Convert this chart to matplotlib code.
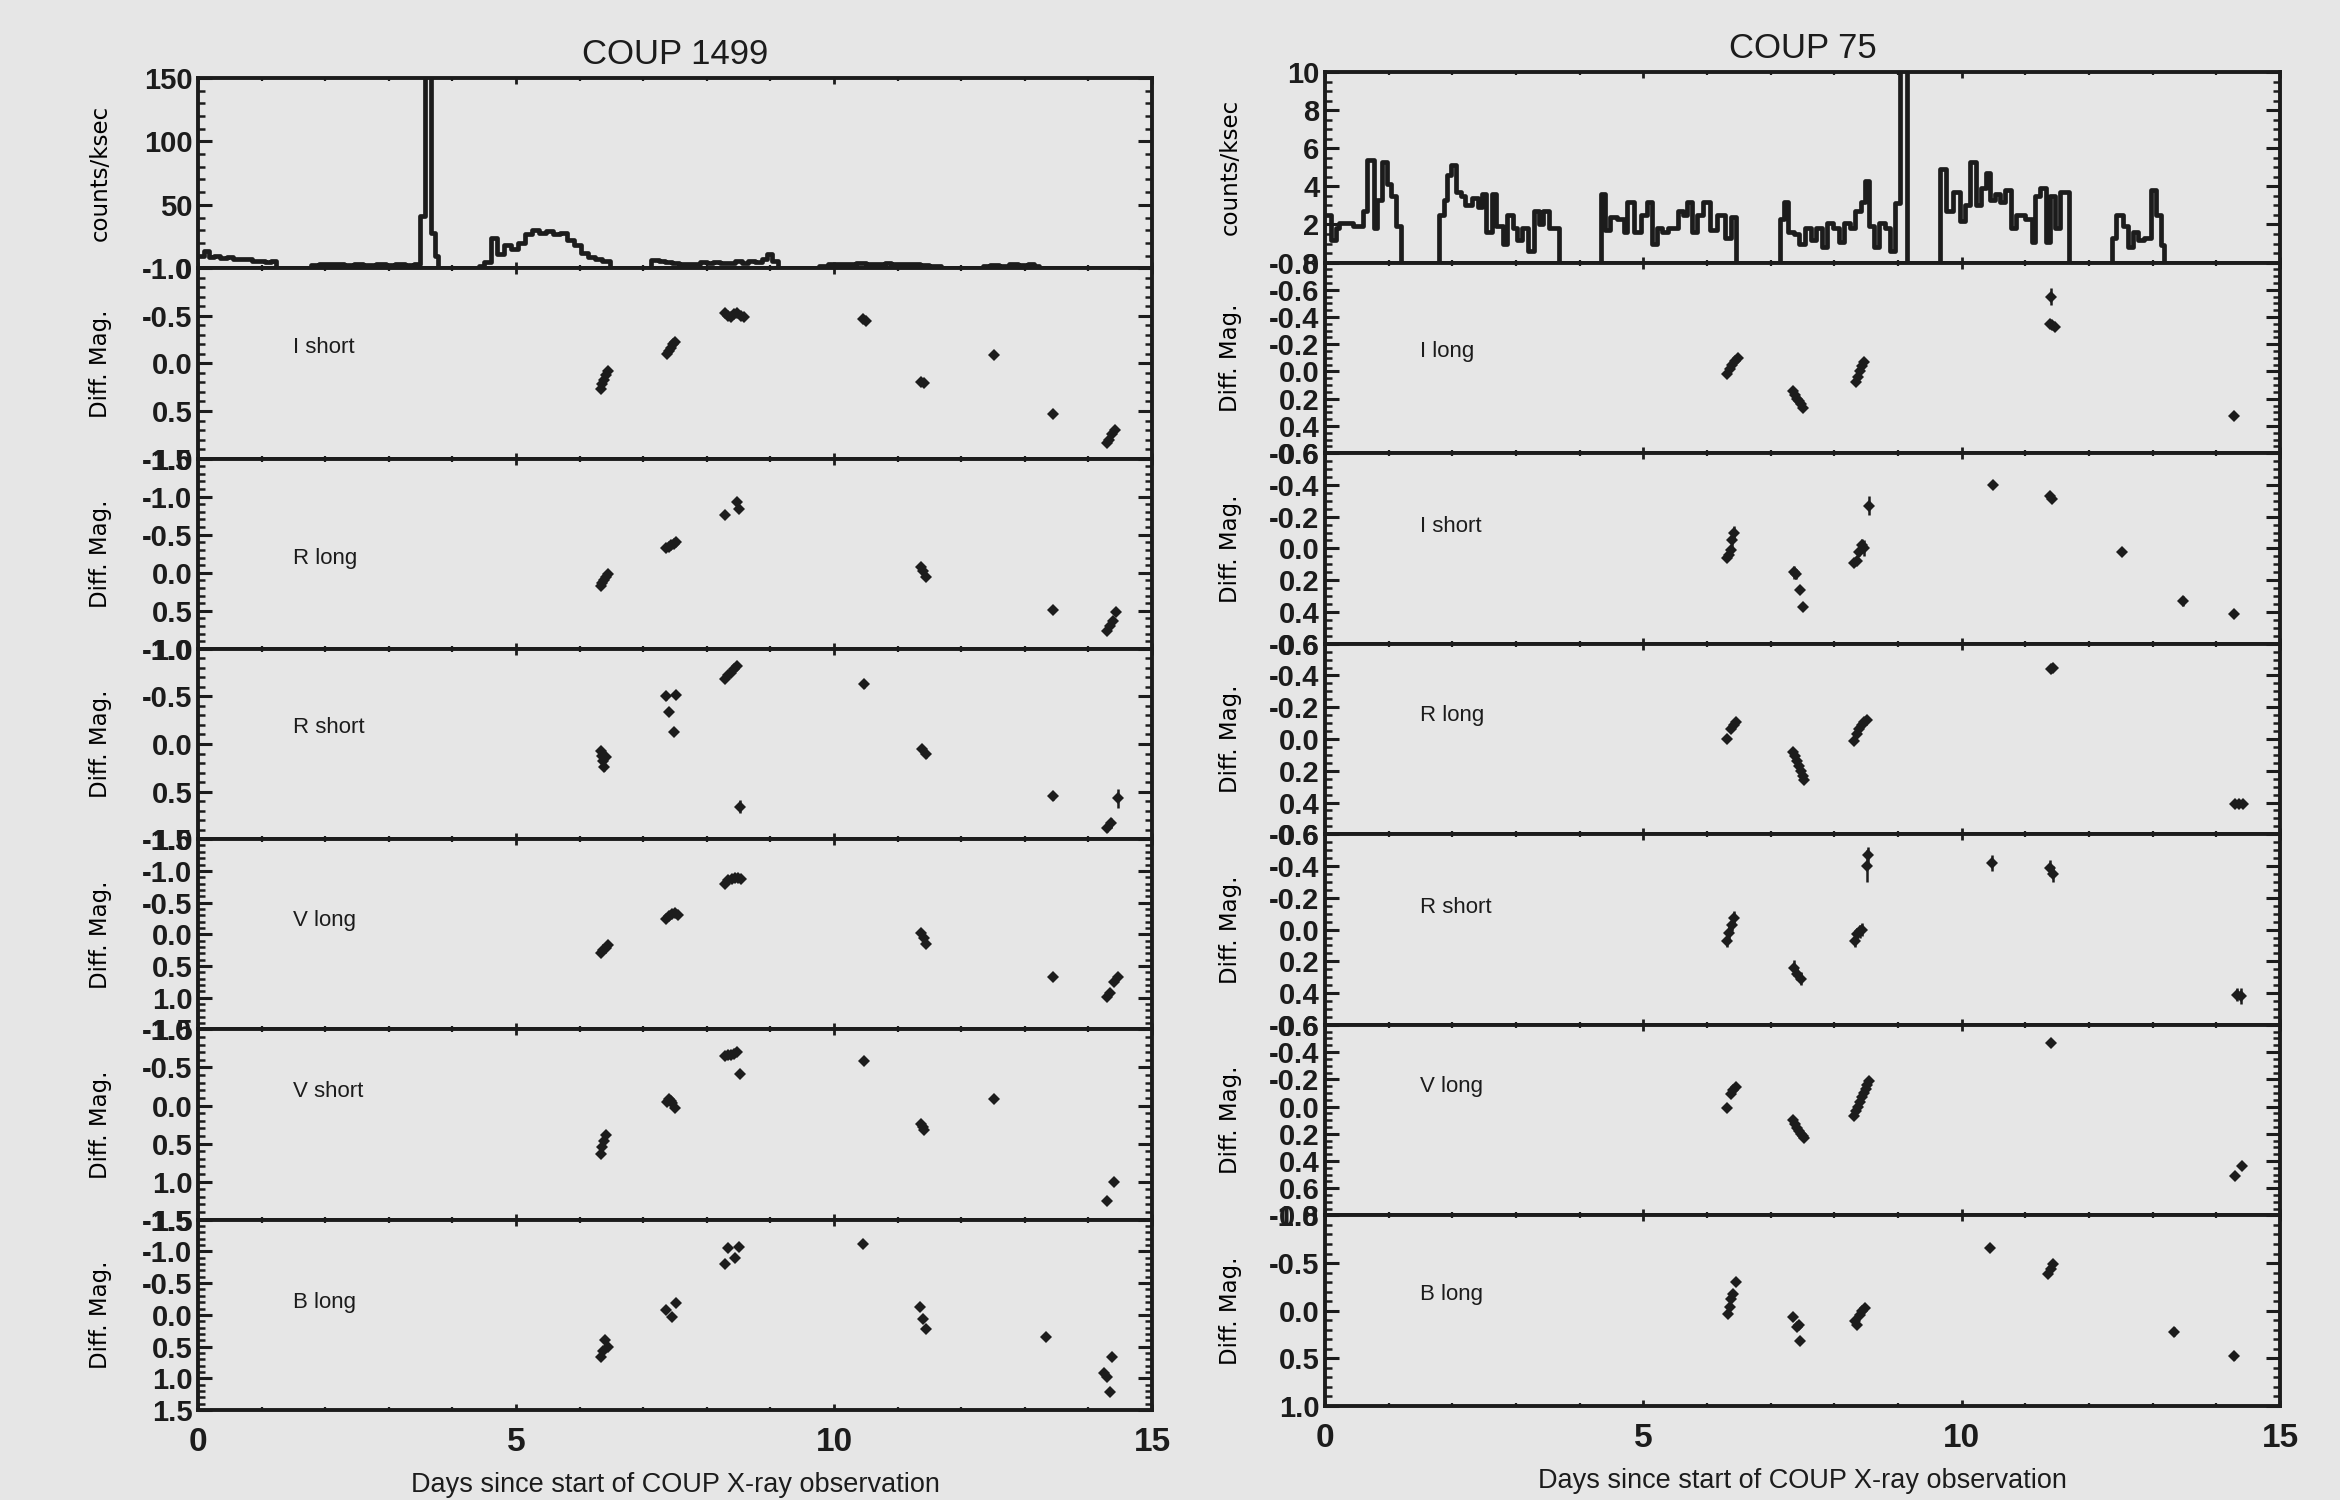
import matplotlib
matplotlib.use('Agg')
import matplotlib.pyplot as plt
from matplotlib import font_manager
from matplotlib.ticker import MultipleLocator, FixedLocator, FormatStrFormatter
import numpy as np

# ---------------- data ----------------
# X-ray light curves (bin start day, counts/ksec), steps-post
lc1499_t = [0.00, 0.10, 0.17, 0.25, 0.35, 0.45, 0.55, 0.70, 0.85, 0.95, 1.05, 1.15, 1.23,
            1.78, 1.90, 2.00, 2.15, 2.30, 2.45, 2.60, 2.80, 2.95, 3.10, 3.25, 3.40, 3.49,
            3.57, 3.67, 3.73, 3.78, 4.42, 4.50, 4.61, 4.70, 4.81, 4.92, 5.03, 5.14, 5.25,
            5.36, 5.47, 5.58, 5.69, 5.80, 5.91, 6.02, 6.13, 6.24, 6.35, 6.48, 7.12, 7.25,
            7.35, 7.45, 7.56, 7.70, 7.89, 8.00, 8.10, 8.20, 8.35, 8.45, 8.55, 8.65, 8.75,
            8.87, 8.95, 9.02, 9.12, 9.76, 9.90, 10.05, 10.20, 10.35, 10.50, 10.65, 10.80,
            10.90, 11.05, 11.20, 11.35, 11.50, 11.68, 12.34, 12.45, 12.60, 12.75, 12.90,
            13.05, 13.15, 13.22, 15.00]
lc1499_rate = [10, 14, 9, 10, 8, 9, 7, 7.5, 6, 6, 5, 6, 0,
               2.5, 3.5, 3, 3.5, 2.5, 3, 2.5, 3, 2.5, 3, 2.5, 3, 41,
               160, 28, 10, 0, 2, 5, 24, 11, 18, 15, 20, 27, 30,
               28, 29, 27, 28, 22, 18, 12, 9, 7, 6, 0, 6.5, 6,
               5, 4.5, 3.2, 3, 5, 4, 5, 4.5, 4, 5.5, 4.5, 6, 5,
               7, 11, 6, 0, 2, 3, 3.5, 3, 4, 3, 3.5, 4.5,
               3, 3.5, 3, 2.5, 2, 0, 2, 2.5, 2, 3, 2.5,
               3.5, 2, 0, 0]

lc75_t = [0.00, 0.10, 0.17, 0.22, 0.44, 0.60, 0.66, 0.77, 0.82, 0.90, 0.97, 1.04, 1.12, 1.19,
          1.79, 1.87, 1.92, 1.98, 2.05, 2.14, 2.20, 2.31, 2.40, 2.47, 2.53, 2.62, 2.69, 2.80,
          2.86, 2.95, 3.02, 3.10, 3.19, 3.28, 3.36, 3.43, 3.52, 3.60, 3.68,
          4.34, 4.40, 4.48, 4.59, 4.70, 4.75, 4.86, 4.97, 5.06, 5.14, 5.21, 5.30, 5.39, 5.55,
          5.63, 5.69, 5.77, 5.85, 5.93, 6.04, 6.15, 6.29, 6.37, 6.46,
          7.14, 7.21, 7.27, 7.36, 7.45, 7.54, 7.64, 7.71, 7.80, 7.89, 7.98, 8.07, 8.15, 8.24,
          8.33, 8.42, 8.48, 8.55, 8.63, 8.70, 8.79, 8.88, 8.96, 9.03, 9.14,
          9.66, 9.75, 9.86, 9.98, 10.05, 10.13, 10.22, 10.31, 10.38, 10.44, 10.53, 10.60, 10.68,
          10.77, 10.86, 10.93, 11.00, 11.10, 11.15, 11.23, 11.32, 11.38, 11.46, 11.54, 11.68,
          12.36, 12.43, 12.53, 12.62, 12.69, 12.77, 12.86, 12.97, 13.05, 13.13, 13.18, 15.00]
lc75_rate = [2.5, 1.2, 1.8, 2.1, 1.9, 2.7, 5.4, 1.8, 3.3, 5.3, 4.1, 3.5, 1.9, 0,
             2.5, 3.3, 4.6, 5.1, 3.7, 3.5, 3.0, 3.4, 2.9, 3.6, 1.6, 3.6, 1.9, 1.0,
             2.5, 1.8, 1.2, 1.8, 0.6, 2.7, 2.0, 2.7, 1.8, 1.8, 0,
             3.6, 1.7, 2.4, 2.3, 1.6, 3.2, 1.6, 2.5, 3.2, 1.0, 1.8, 1.6, 1.8, 2.7,
             2.5, 3.2, 1.6, 2.5, 3.2, 1.7, 2.5, 1.3, 2.4, 0,
             2.3, 3.2, 1.6, 1.5, 1.0, 1.8, 1.2, 1.8, 0.8, 2.1, 1.8, 1.1, 2.1, 1.8,
             2.7, 3.2, 4.3, 1.9, 0.8, 2.1, 1.8, 0.6, 3.1, 10.5, 0,
             4.9, 2.7, 3.7, 2.2, 3.0, 5.3, 3.0, 3.9, 4.7, 3.3, 3.6, 3.2, 3.8,
             1.8, 2.5, 2.5, 2.3, 1.1, 3.5, 3.9, 1.1, 3.5, 1.8, 3.7, 0,
             1.3, 2.5, 1.9, 0.8, 1.6, 1.2, 1.3, 3.8, 2.5, 0.9, 0, 0]

# COUP 1499 optical differential magnitudes
c1499_Ishort_t = [6.33, 6.36, 6.38, 6.41, 6.44, 7.38, 7.41, 7.44, 7.47, 7.50, 8.28, 8.33, 8.38,
                  8.43, 8.48, 8.53, 8.58, 10.45, 10.50, 11.37, 11.42, 12.52, 13.45, 14.29,
                  14.33, 14.37, 14.42]
c1499_Ishort_m = [0.27, 0.22, 0.17, 0.12, 0.08, -0.10, -0.13, -0.16, -0.20, -0.23, -0.53, -0.50,
                  -0.49, -0.52, -0.53, -0.50, -0.49, -0.47, -0.45, 0.19, 0.21, -0.09, 0.53,
                  0.84, 0.80, 0.74, 0.70]
c1499_Ishort_e = [0.03, 0.03, 0.02, 0.02, 0.02, 0.02, 0.02, 0.02, 0.02, 0.02, 0.02, 0.02, 0.02,
                  0.02, 0.02, 0.02, 0.02, 0.02, 0.02, 0.03, 0.03, 0.02, 0.02, 0.03, 0.03, 0.03,
                  0.03]

c1499_Rlong_t = [6.33, 6.36, 6.39, 6.42, 6.45, 7.36, 7.40, 7.44, 7.48, 7.52, 8.28, 8.48, 8.51,
                 11.37, 11.40, 11.44, 13.45, 14.30, 14.34, 14.38, 14.44]
c1499_Rlong_m = [0.18, 0.14, 0.10, 0.05, 0.01, -0.32, -0.34, -0.36, -0.38, -0.40, -0.76, -0.93,
                 -0.84, -0.07, -0.02, 0.05, 0.49, 0.76, 0.70, 0.63, 0.52]
c1499_Rlong_e = [0.03, 0.03, 0.03, 0.03, 0.03, 0.02, 0.02, 0.02, 0.02, 0.02, 0.03, 0.03, 0.03,
                 0.03, 0.03, 0.03, 0.03, 0.03, 0.03, 0.03, 0.03]

c1499_Rshort_t = [6.33, 6.35, 6.37, 6.39, 6.41, 7.36, 7.40, 7.52, 7.48, 8.28, 8.33, 8.38, 8.43,
                  8.48, 8.52, 10.47, 11.38, 11.44, 13.45, 14.29, 14.35, 14.46]
c1499_Rshort_m = [0.07, 0.13, 0.18, 0.24, 0.14, -0.50, -0.34, -0.52, -0.13, -0.68, -0.72, -0.75,
                  -0.79, -0.82, 0.66, -0.63, 0.05, 0.11, 0.55, 0.88, 0.83, 0.57]
c1499_Rshort_e = [0.04, 0.04, 0.04, 0.04, 0.04, 0.04, 0.04, 0.04, 0.04, 0.03, 0.03, 0.03, 0.03,
                  0.03, 0.07, 0.04, 0.04, 0.04, 0.04, 0.05, 0.05, 0.10]

c1499_Vlong_t = [6.33, 6.37, 6.41, 6.45, 7.36, 7.40, 7.45, 7.50, 7.54, 8.29, 8.34, 8.39, 8.44,
                 8.49, 8.54, 11.37, 11.41, 11.45, 13.45, 14.29, 14.34, 14.40, 14.46]
c1499_Vlong_m = [0.29, 0.25, 0.21, 0.17, -0.24, -0.29, -0.32, -0.33, -0.31, -0.80, -0.85, -0.87,
                 -0.88, -0.88, -0.87, -0.02, 0.06, 0.15, 0.68, 0.99, 0.93, 0.75, 0.68]
c1499_Vlong_e = [0.03, 0.03, 0.03, 0.03, 0.03, 0.03, 0.03, 0.03, 0.03, 0.03, 0.03, 0.03, 0.03,
                 0.03, 0.03, 0.03, 0.03, 0.03, 0.03, 0.03, 0.03, 0.03, 0.03]

c1499_Vshort_t = [6.33, 6.36, 6.39, 6.42, 7.37, 7.40, 7.43, 7.46, 7.50, 8.28, 8.33, 8.38, 8.43,
                  8.48, 8.52, 10.47, 11.37, 11.40, 11.42, 12.52, 14.29, 14.40]
c1499_Vshort_m = [0.64, 0.54, 0.47, 0.39, -0.05, -0.08, -0.06, -0.03, 0.03, -0.65, -0.67, -0.66,
                  -0.68, -0.71, -0.42, -0.59, 0.24, 0.28, 0.32, -0.08, 1.26, 1.00]
c1499_Vshort_e = [0.03, 0.03, 0.03, 0.03, 0.03, 0.03, 0.03, 0.03, 0.03, 0.03, 0.03, 0.03, 0.03,
                  0.03, 0.03, 0.03, 0.03, 0.03, 0.03, 0.03, 0.04, 0.04]

c1499_Blong_t = [6.33, 6.37, 6.40, 6.44, 7.36, 7.45, 7.51, 8.28, 8.34, 8.44, 8.50, 10.45, 11.36,
                 11.40, 11.45, 13.33, 14.25, 14.30, 14.34, 14.37]
c1499_Blong_m = [0.66, 0.57, 0.40, 0.50, -0.07, 0.04, -0.19, -0.80, -1.05, -0.89, -1.07, -1.11,
                 -0.12, 0.07, 0.22, 0.35, 0.92, 0.98, 1.22, 0.66]
c1499_Blong_e = [0.04, 0.04, 0.04, 0.04, 0.04, 0.04, 0.04, 0.04, 0.04, 0.04, 0.04, 0.04, 0.04,
                 0.04, 0.04, 0.04, 0.04, 0.04, 0.04, 0.04]

# COUP 75 optical differential magnitudes
c75_Ilong_t = [6.32, 6.36, 6.40, 6.44, 6.48, 7.35, 7.38, 7.41, 7.44, 7.47, 7.50, 8.34, 8.37,
               8.40, 8.43, 8.46, 11.40, 11.38, 11.42, 11.46, 14.28]
c75_Ilong_m = [0.02, -0.02, -0.05, -0.08, -0.10, 0.14, 0.17, 0.20, 0.22, 0.24, 0.27, 0.08, 0.04,
               0.00, -0.04, -0.07, -0.55, -0.35, -0.34, -0.33, 0.33]
c75_Ilong_e = [0.015, 0.015, 0.015, 0.015, 0.015, 0.015, 0.015, 0.015, 0.015, 0.015, 0.015,
               0.015, 0.015, 0.015, 0.015, 0.015, 0.06, 0.015, 0.015, 0.015, 0.015]

c75_Ishort_t = [6.32, 6.34, 6.37, 6.40, 6.43, 7.37, 7.40, 7.46, 7.50, 8.31, 8.35, 8.39, 8.43,
                8.47, 8.54, 10.49, 11.38, 11.42, 12.52, 13.47, 14.28]
c75_Ishort_m = [0.06, 0.04, 0.01, -0.05, -0.10, 0.15, 0.16, 0.26, 0.37, 0.09, 0.08, 0.02, -0.02,
                0.00, -0.27, -0.40, -0.33, -0.31, 0.02, 0.33, 0.41]
c75_Ishort_e = [0.02, 0.02, 0.03, 0.04, 0.04, 0.04, 0.03, 0.02, 0.02, 0.02, 0.02, 0.03, 0.04,
                0.05, 0.06, 0.02, 0.02, 0.02, 0.02, 0.03, 0.02]

c75_Rlong_t = [6.32, 6.38, 6.42, 6.46, 7.35, 7.38, 7.41, 7.44, 7.47, 7.50, 7.53, 8.31, 8.35,
               8.39, 8.43, 8.47, 8.51, 11.40, 11.43, 14.30, 14.36, 14.42]
c75_Rlong_m = [0.00, -0.06, -0.09, -0.11, 0.08, 0.11, 0.14, 0.17, 0.20, 0.23, 0.26, 0.01, -0.03,
               -0.06, -0.09, -0.11, -0.12, -0.44, -0.45, 0.41, 0.41, 0.41]
c75_Rlong_e = [0.015, 0.015, 0.015, 0.015, 0.015, 0.015, 0.015, 0.015, 0.015, 0.015, 0.015,
               0.015, 0.015, 0.015, 0.015, 0.015, 0.015, 0.015, 0.015, 0.015, 0.015, 0.015]

c75_Rshort_t = [6.32, 6.35, 6.39, 6.43, 7.37, 7.42, 7.48, 8.32, 8.36, 8.40, 8.44, 8.51, 8.53,
                10.47, 11.38, 11.43, 14.33, 14.38]
c75_Rshort_m = [0.07, 0.02, -0.03, -0.07, 0.24, 0.28, 0.31, 0.07, 0.03, 0.01, 0.00, -0.40, -0.47,
                -0.42, -0.39, -0.35, 0.41, 0.42]
c75_Rshort_e = [0.04, 0.04, 0.04, 0.05, 0.05, 0.04, 0.04, 0.04, 0.04, 0.04, 0.04, 0.10, 0.05,
                0.05, 0.05, 0.05, 0.04, 0.05]

c75_Vlong_t = [6.32, 6.37, 6.41, 6.45, 7.35, 7.38, 7.41, 7.44, 7.47, 7.50, 7.53, 8.31, 8.34,
               8.37, 8.40, 8.43, 8.46, 8.49, 8.52, 8.55, 11.41, 14.29, 14.40]
c75_Vlong_m = [0.01, -0.09, -0.12, -0.14, 0.10, 0.13, 0.16, 0.18, 0.20, 0.22, 0.23, 0.07, 0.03,
               0.00, -0.03, -0.07, -0.10, -0.13, -0.16, -0.19, -0.47, 0.51, 0.44]
c75_Vlong_e = [0.015, 0.015, 0.015, 0.015, 0.015, 0.015, 0.015, 0.015, 0.015, 0.015, 0.015,
               0.015, 0.015, 0.015, 0.015, 0.015, 0.015, 0.015, 0.015, 0.015, 0.015, 0.015, 0.015]

c75_Blong_t = [6.33, 6.36, 6.38, 6.41, 6.45, 7.35, 7.41, 7.44, 7.46, 8.32, 8.36, 8.40, 8.44,
               8.48, 10.45, 11.36, 11.40, 11.43, 13.33, 14.27]
c75_Blong_m = [0.03, -0.04, -0.12, -0.18, -0.30, 0.07, 0.17, 0.15, 0.32, 0.11, 0.15, 0.05, 0.00,
               -0.03, -0.66, -0.39, -0.44, -0.49, 0.22, 0.48]
c75_Blong_e = [0.03, 0.03, 0.03, 0.03, 0.03, 0.03, 0.03, 0.03, 0.03, 0.03, 0.03, 0.03, 0.03,
               0.03, 0.03, 0.03, 0.03, 0.03, 0.05, 0.04]

# ---------------- style ----------------
def pick_font(names):
    avail = {f.name for f in font_manager.fontManager.ttflist}
    for n in names:
        if n in avail:
            return n
    return 'DejaVu Sans'

NARROW = pick_font(['Liberation Sans Narrow', 'Liberation Sans'])
BG = '#e6e6e6'
INK = '#1c1c1c'

plt.rcParams['font.family'] = NARROW
plt.rcParams['font.weight'] = 'bold'
plt.rcParams['axes.unicode_minus'] = False
plt.rcParams['xtick.labelsize'] = 24
plt.rcParams['ytick.labelsize'] = 21
plt.rcParams['text.color'] = INK
plt.rcParams['xtick.color'] = INK
plt.rcParams['ytick.color'] = INK

W, H = 2340, 1500
fig = plt.figure(figsize=(W / 100, H / 100), dpi=100, facecolor=BG)


def setup(ax, bottom_labels):
    ax.set_facecolor(BG)
    ax.set_xlim(0, 15)
    for s in ax.spines.values():
        s.set_linewidth(2.8)
        s.set_color(INK)
    ax.xaxis.set_major_locator(MultipleLocator(5))
    ax.xaxis.set_minor_locator(MultipleLocator(1))
    ax.tick_params(axis='x', which='major', direction='in', top=True, bottom=True,
                   length=4, width=2, labelbottom=bottom_labels, pad=12)
    ax.tick_params(axis='x', which='minor', direction='in', top=True, bottom=True,
                   length=2.5, width=1.6)
    ax.tick_params(axis='y', which='major', direction='in', left=True, right=True,
                   length=10, width=2.2, pad=4)
    ax.tick_params(axis='y', which='minor', direction='in', left=True, right=True,
                   length=5, width=1.8)


def ylab(ax, text, xpos):
    ax.set_ylabel(text, fontsize=16.5, fontweight='normal', family='DejaVu Sans')
    ax.yaxis.set_label_coords(xpos, 0.5)


def draw_column(x0, x1, top, bottom, title, lc_t, lc_rate, lc_top, lc_step, lc_minor,
                panels, title_y, xlabel_y, ylab_x):
    n = 1 + len(panels)
    ph = (bottom - top) / n
    left = x0 / W
    width = (x1 - x0) / W
    axes = []
    for i in range(n):
        y0 = 1 - (top + (i + 1) * ph) / H
        ax = fig.add_axes([left, y0, width, ph / H])
        setup(ax, i == n - 1)
        axes.append(ax)

    # light curve
    ax = axes[0]
    ax.plot(lc_t, lc_rate, drawstyle='steps-post', color=INK, lw=3.4)
    ax.set_ylim(0, lc_top)
    ax.yaxis.set_major_locator(MultipleLocator(lc_step))
    ax.yaxis.set_minor_locator(MultipleLocator(lc_minor))
    ax.yaxis.set_major_formatter(FormatStrFormatter('%d'))
    ylab(ax, 'counts/ksec', ylab_x)

    for ax, (name, t, m, e, lo, hi, step, minor, ly) in zip(axes[1:], panels):
        ax.errorbar(t, m, yerr=e, fmt='D', ms=6.5, color=INK, ecolor=INK, mew=0,
                    elinewidth=1.8, capsize=4, capthick=1.8)
        ax.set_ylim(hi, lo)
        ticks = np.round(np.arange(lo, hi + 1e-6, step), 2) + 0.0
        ax.yaxis.set_major_locator(FixedLocator(ticks))
        ax.yaxis.set_minor_locator(MultipleLocator(minor))
        ax.yaxis.set_major_formatter(FormatStrFormatter('%.1f'))
        ax.text(1.5, ly, name, fontsize=16, fontweight='normal', ha='left', va='center')
        ylab(ax, 'Diff. Mag.', ylab_x)

    cx = (x0 + x1) / 2 / W
    fig.text(cx, 1 - title_y / H, title, fontsize=25, fontweight='normal',
             ha='center', va='center')
    fig.text(cx, 1 - xlabel_y / H, 'Days since start of COUP X-ray observation',
             fontsize=19.5, fontweight='normal', ha='center', va='center')


panels_1499 = [
    ('I short', c1499_Ishort_t, c1499_Ishort_m, c1499_Ishort_e, -1.0, 1.0, 0.5, 0.1, -0.17),
    ('R long', c1499_Rlong_t, c1499_Rlong_m, c1499_Rlong_e, -1.5, 1.0, 0.5, 0.1, -0.19),
    ('R short', c1499_Rshort_t, c1499_Rshort_m, c1499_Rshort_e, -1.0, 1.0, 0.5, 0.1, -0.17),
    ('V long', c1499_Vlong_t, c1499_Vlong_m, c1499_Vlong_e, -1.5, 1.5, 0.5, 0.1, -0.22),
    ('V short', c1499_Vshort_t, c1499_Vshort_m, c1499_Vshort_e, -1.0, 1.5, 0.5, 0.1, -0.18),
    ('B long', c1499_Blong_t, c1499_Blong_m, c1499_Blong_e, -1.5, 1.5, 0.5, 0.1, -0.20),
]
panels_75 = [
    ('I long', c75_Ilong_t, c75_Ilong_m, c75_Ilong_e, -0.8, 0.6, 0.2, 0.05, -0.15),
    ('I short', c75_Ishort_t, c75_Ishort_m, c75_Ishort_e, -0.6, 0.6, 0.2, 0.05, -0.14),
    ('R long', c75_Rlong_t, c75_Rlong_m, c75_Rlong_e, -0.6, 0.6, 0.2, 0.05, -0.15),
    ('R short', c75_Rshort_t, c75_Rshort_m, c75_Rshort_e, -0.6, 0.6, 0.2, 0.05, -0.14),
    ('V long', c75_Vlong_t, c75_Vlong_m, c75_Vlong_e, -0.6, 0.8, 0.2, 0.05, -0.15),
    ('B long', c75_Blong_t, c75_Blong_m, c75_Blong_e, -1.0, 1.0, 0.5, 0.1, -0.17),
]

draw_column(198, 1152, 78, 1410, 'COUP 1499', lc1499_t, lc1499_rate, 150, 50, 10,
            panels_1499, title_y=54, xlabel_y=1485, ylab_x=-0.09)
draw_column(1325, 2280, 72, 1406, 'COUP 75', lc75_t, lc75_rate, 10, 2, 0.5,
            panels_75, title_y=48, xlabel_y=1481, ylab_x=-0.087)

fig.savefig('out.png', dpi=100, facecolor=BG)
